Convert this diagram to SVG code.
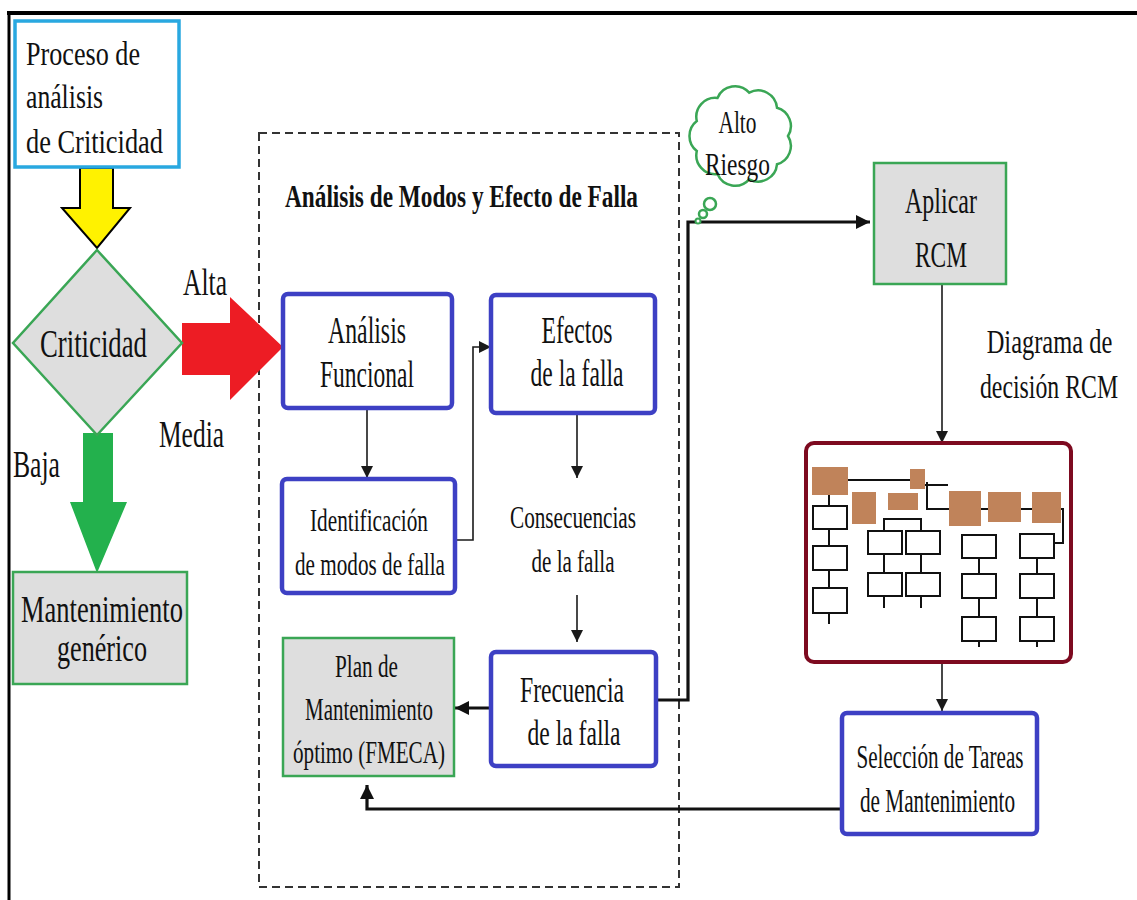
<svg xmlns="http://www.w3.org/2000/svg" width="1137" height="900" viewBox="0 0 1137 900">
  <style>
    .t { font-family: "Liberation Serif", "Times New Roman", serif; fill: #111; }
    .tb { font-family: "Liberation Serif", "Times New Roman", serif; fill: #111; font-weight: bold; }
    .blue { fill: #fff; stroke: #3d40c4; stroke-width: 4.5; }
    .green { fill: #dedede; stroke: #3aa655; stroke-width: 2.5; }
    .ln { fill: none; stroke: #1a1a1a; stroke-width: 1.6; }
    .lnb { fill: none; stroke: #111; stroke-width: 3.2; }
    .brown { fill: #c0835a; }
    .wb { fill: #fff; stroke: #111; stroke-width: 2; }
    .tree { fill: none; stroke: #111; stroke-width: 2; }
  </style>
  <defs>
    <marker id="ah" markerWidth="12" markerHeight="12" refX="12" refY="6" orient="auto" markerUnits="userSpaceOnUse">
      <path d="M0,0 L12,6 L0,12 Z" fill="#1a1a1a"/>
    </marker>
    <marker id="ahb" markerWidth="14" markerHeight="14" refX="14" refY="7" orient="auto" markerUnits="userSpaceOnUse">
      <path d="M0,0 L14,7 L0,14 Z" fill="#111"/>
    </marker>
  </defs>

  <rect width="1137" height="900" fill="#fff"/>

  <!-- outer frame -->
  <path d="M7,13 H1137" stroke="#000" stroke-width="4" fill="none"/>
  <path d="M9,11 V900" stroke="#000" stroke-width="3" fill="none"/>

  <!-- dashed FMEA frame -->
  <rect id="fmea-frame" x="259" y="133" width="420" height="754" fill="none" stroke="#333" stroke-width="2" stroke-dasharray="8 5"/>
  <text class="tb" x="461.5" y="207" font-size="31" text-anchor="middle" textLength="353" lengthAdjust="spacingAndGlyphs">Análisis de Modos y Efecto de Falla</text>

  <!-- big block arrows -->
  <g id="arrow-down-yellow">
    <path d="M80,168 L113,168 L113,208 L130,208 L97,248 L62,208 L80,208 Z" fill="#fff200" stroke="#000" stroke-width="2"/>
  </g>
  <g id="arrow-baja">
    <path d="M83,433 L113,433 L113,502 L127,502 L97,573 L70,502 L83,502 Z" fill="#23b14d"/>
  </g>
  <g id="arrow-alta">
    <path d="M182,323 L230,323 L230,297 L283,347 L230,400 L230,375 L182,375 Z" fill="#ed1c24"/>
  </g>

  <!-- connectors -->
  <g id="connectors">
    <path class="ln" d="M367,408 V478" marker-end="url(#ah)"/>
    <path class="ln" d="M455,540 H473 V347 H491" marker-end="url(#ah)"/>
    <path class="ln" d="M577,403 V478" marker-end="url(#ah)"/>
    <path class="ln" d="M577,595 V642" marker-end="url(#ah)"/>
    <path class="lnb" d="M491,708 H455" marker-end="url(#ahb)"/>
    <path class="lnb" d="M656,700 H688 V222 H870" marker-end="url(#ahb)"/>
    <path class="ln" d="M942,284 V443" marker-end="url(#ah)"/>
    <path class="ln" d="M942,662 V711" marker-end="url(#ah)"/>
    <path class="lnb" d="M842,809 H367 V785" marker-end="url(#ahb)"/>
  </g>

  <!-- nodes -->
  <g id="proceso">
    <rect x="15" y="21" width="164" height="146" fill="#fff" stroke="#29a8e0" stroke-width="3.5"/>
    <text class="t" x="26" y="65" font-size="34" textLength="114" lengthAdjust="spacingAndGlyphs">Proceso de</text>
    <text class="t" x="26" y="108" font-size="34" textLength="77" lengthAdjust="spacingAndGlyphs">análisis</text>
    <text class="t" x="26" y="153" font-size="34" textLength="137" lengthAdjust="spacingAndGlyphs">de Criticidad</text>
  </g>

  <g id="criticidad">
    <path d="M97,250 L182,343 L97,435 L13,343 Z" fill="#dedede" stroke="#3aa655" stroke-width="2.5"/>
    <text class="t" x="93.5" y="357" font-size="39" text-anchor="middle" textLength="107" lengthAdjust="spacingAndGlyphs">Criticidad</text>
  </g>

  <g id="labels-criticidad">
    <text class="t" x="205" y="295" font-size="37" text-anchor="middle" textLength="44" lengthAdjust="spacingAndGlyphs">Alta</text>
    <text class="t" x="191.5" y="447" font-size="37" text-anchor="middle" textLength="65" lengthAdjust="spacingAndGlyphs">Media</text>
    <text class="t" x="36.5" y="477" font-size="37" text-anchor="middle" textLength="47" lengthAdjust="spacingAndGlyphs">Baja</text>
  </g>

  <g id="mant-generico">
    <rect class="green" x="13" y="572" width="174" height="112"/>
    <text class="t" x="102" y="622" font-size="38" text-anchor="middle" textLength="162" lengthAdjust="spacingAndGlyphs">Mantenimiento</text>
    <text class="t" x="102" y="661" font-size="38" text-anchor="middle" textLength="90" lengthAdjust="spacingAndGlyphs">genérico</text>
  </g>

  <g id="analisis-funcional">
    <rect class="blue" x="283" y="294" width="169" height="114" rx="5"/>
    <text class="t" x="367" y="343" font-size="37" text-anchor="middle" textLength="78" lengthAdjust="spacingAndGlyphs">Análisis</text>
    <text class="t" x="367" y="387" font-size="37" text-anchor="middle" textLength="94" lengthAdjust="spacingAndGlyphs">Funcional</text>
  </g>

  <g id="efectos">
    <rect class="blue" x="491" y="295" width="164" height="118" rx="5"/>
    <text class="t" x="577" y="343" font-size="37" text-anchor="middle" textLength="71" lengthAdjust="spacingAndGlyphs">Efectos</text>
    <text class="t" x="577" y="386" font-size="37" text-anchor="middle" textLength="93" lengthAdjust="spacingAndGlyphs">de la falla</text>
  </g>

  <g id="identificacion">
    <rect class="blue" x="282" y="479" width="173" height="114" rx="5"/>
    <text class="t" x="369" y="531" font-size="32" text-anchor="middle" textLength="118" lengthAdjust="spacingAndGlyphs">Identificación</text>
    <text class="t" x="370" y="575" font-size="32" text-anchor="middle" textLength="150" lengthAdjust="spacingAndGlyphs">de modos de falla</text>
  </g>

  <g id="consecuencias">
    <text class="t" x="573" y="528" font-size="32" text-anchor="middle" textLength="126" lengthAdjust="spacingAndGlyphs">Consecuencias</text>
    <text class="t" x="573" y="572" font-size="32" text-anchor="middle" textLength="83" lengthAdjust="spacingAndGlyphs">de la falla</text>
  </g>

  <g id="frecuencia">
    <rect class="blue" x="491" y="652" width="165" height="114" rx="5"/>
    <text class="t" x="572" y="702" font-size="35" text-anchor="middle" textLength="104" lengthAdjust="spacingAndGlyphs">Frecuencia</text>
    <text class="t" x="574" y="745" font-size="35" text-anchor="middle" textLength="93" lengthAdjust="spacingAndGlyphs">de la falla</text>
  </g>

  <g id="plan-fmeca">
    <rect class="green" x="283" y="638" width="171" height="138"/>
    <text class="t" x="366.5" y="677" font-size="32" text-anchor="middle" textLength="63" lengthAdjust="spacingAndGlyphs">Plan de</text>
    <text class="t" x="369" y="720" font-size="32" text-anchor="middle" textLength="128" lengthAdjust="spacingAndGlyphs">Mantenimiento</text>
    <text class="t" x="369" y="763" font-size="32" text-anchor="middle" textLength="152" lengthAdjust="spacingAndGlyphs">óptimo (FMECA)</text>
  </g>

  <g id="alto-riesgo">
    <path d="M788,136 A19,19 0 0 1 777,164.3 A19,19 0 0 1 749.2,179.3 A19,19 0 0 1 717.5,174.1 A19,19 0 0 1 696.8,151 A19,19 0 0 1 696.8,121 A19,19 0 0 1 717.5,97.9 A19,19 0 0 1 749.2,92.7 A19,19 0 0 1 777,107.7 A19,19 0 0 1 788,136 Z" fill="#fff" stroke="#3aa655" stroke-width="2.5"/>
    <circle cx="710" cy="204" r="6" fill="#fff" stroke="#3aa655" stroke-width="2.5"/>
    <circle cx="703" cy="214" r="4" fill="#fff" stroke="#3aa655" stroke-width="2.5"/>
    <circle cx="698" cy="221" r="2.5" fill="#fff" stroke="#3aa655" stroke-width="2"/>
    <text class="t" x="737.5" y="133" font-size="31" text-anchor="middle" textLength="38" lengthAdjust="spacingAndGlyphs">Alto</text>
    <text class="t" x="737.5" y="175" font-size="31" text-anchor="middle" textLength="65" lengthAdjust="spacingAndGlyphs">Riesgo</text>
  </g>

  <g id="aplicar-rcm">
    <rect class="green" x="874" y="163" width="132" height="121"/>
    <text class="t" x="941" y="213" font-size="35" text-anchor="middle" textLength="72" lengthAdjust="spacingAndGlyphs">Aplicar</text>
    <text class="t" x="941" y="267" font-size="35" text-anchor="middle" textLength="52" lengthAdjust="spacingAndGlyphs">RCM</text>
  </g>

  <!-- label beside the RCM arrow; condensed by horizontal scaling -->
  <g id="label-diagrama">
    <text class="t" transform="translate(1049.5 353) scale(0.72 1)" x="0" y="0" font-size="34" text-anchor="middle">Diagrama de</text>
    <text class="t" transform="translate(1049 398) scale(0.70 1)" x="0" y="0" font-size="34" text-anchor="middle">decisión RCM</text>
  </g>

  <g id="diagrama-decision">
    <rect x="806" y="443" width="265" height="219" rx="8" fill="#fff" stroke="#7d0a20" stroke-width="4"/>
    <!-- branch lines -->
    <path class="tree" d="M848,480 H910"/>
    <path class="tree" d="M925,485 H948 M927,482 V509 H949 M981,509 H988 M1021,509 H1032 M1061,509 H1063 V543 H1054"/>
    <path class="tree" d="M829,495 V506 M829,529 V546 M829,570 V588 M829,613 V624"/>
    <path class="tree" d="M884,531 V519 H921 V531 M884,554 V573 M921,554 V573 M884,596 V608 M921,596 V608"/>
    <path class="tree" d="M979,558 V574 M979,598 V617 M979,641 V647 M1037,558 V574 M1037,598 V617 M1037,641 V647"/>
    <!-- decision blocks -->
    <rect class="brown" x="812" y="467" width="36" height="28"/>
    <rect class="brown" x="910" y="469" width="15" height="20"/>
    <rect class="brown" x="852" y="492" width="24" height="32"/>
    <rect class="brown" x="888" y="493" width="30" height="17"/>
    <rect class="brown" x="949" y="491" width="32" height="35"/>
    <rect class="brown" x="988" y="492" width="33" height="30"/>
    <rect class="brown" x="1032" y="492" width="29" height="31"/>
    <!-- task blocks -->
    <rect class="wb" x="813" y="506" width="34" height="23"/>
    <rect class="wb" x="813" y="546" width="34" height="24"/>
    <rect class="wb" x="813" y="588" width="34" height="25"/>
    <rect class="wb" x="868" y="531" width="34" height="23"/>
    <rect class="wb" x="906" y="531" width="34" height="23"/>
    <rect class="wb" x="868" y="573" width="34" height="23"/>
    <rect class="wb" x="906" y="573" width="34" height="23"/>
    <rect class="wb" x="962" y="535" width="34" height="23"/>
    <rect class="wb" x="962" y="574" width="34" height="24"/>
    <rect class="wb" x="962" y="617" width="34" height="24"/>
    <rect class="wb" x="1020" y="534" width="34" height="24"/>
    <rect class="wb" x="1020" y="574" width="34" height="24"/>
    <rect class="wb" x="1020" y="617" width="34" height="24"/>
  </g>

  <g id="seleccion-tareas">
    <rect class="blue" x="842" y="713" width="195" height="121" rx="5"/>
    <text class="t" x="940" y="768" font-size="33" text-anchor="middle" textLength="167" lengthAdjust="spacingAndGlyphs">Selección de Tareas</text>
    <text class="t" x="937.5" y="812" font-size="33" text-anchor="middle" textLength="155" lengthAdjust="spacingAndGlyphs">de Mantenimiento</text>
  </g>
</svg>
